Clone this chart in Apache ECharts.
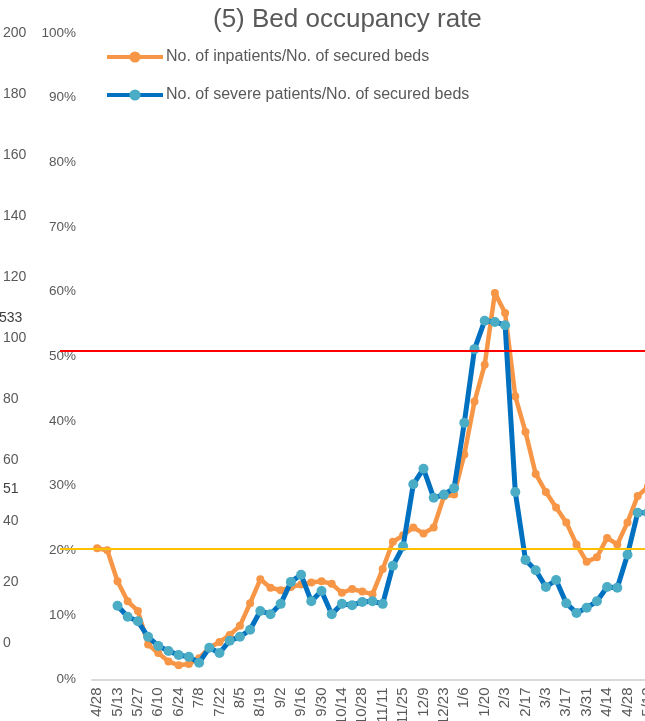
<!DOCTYPE html>
<html>
<head>
<meta charset="utf-8">
<script src="https://cdn.jsdelivr.net/npm/echarts@6/dist/echarts.min.js"></script>
<style>
html, body { margin: 0; padding: 0; background: #fff; }
#chart { width: 645px; height: 721px; }
</style>
</head>
<body>
<div id="chart"></div>
<script>
// weekly dates, every other one is labelled
const dates = [
    '4/28', '5/6', '5/13', '5/20', '5/27', '6/3', '6/10', '6/17', '6/24', '7/1',
    '7/8', '7/15', '7/22', '7/29', '8/5', '8/12', '8/19', '8/26', '9/2', '9/9',
    '9/16', '9/23', '9/30', '10/7', '10/14', '10/21', '10/28', '11/4', '11/11', '11/18',
    '11/25', '12/2', '12/9', '12/16', '12/23', '12/30', '1/6', '1/13', '1/20', '1/27',
    '2/3', '2/10', '2/17', '2/24', '3/3', '3/10', '3/17', '3/24', '3/31', '4/7',
    '4/14', '4/21', '4/28', '5/5', '5/12'
];

// No. of inpatients / No. of secured beds (%)
const inpatientRate = [
    20.3, 20.0, 15.2, 12.1, 10.6, 5.4, 4.1, 2.8, 2.2, 2.4,
    3.3, 4.9, 5.8, 6.9, 8.3, 11.8, 15.5, 14.2, 13.8, 14.3,
    14.7, 15.0, 15.2, 14.8, 13.4, 14.0, 13.6, 13.2, 17.1, 21.3,
    22.3, 23.5, 22.6, 23.5, 28.3, 28.6, 34.8, 43.0, 48.7, 59.8,
    56.7, 43.8, 38.3, 31.8, 29.0, 26.6, 24.3, 20.9, 18.2, 18.9,
    21.9, 20.9, 24.3, 28.4, 29.8
];

// No. of severe patients / No. of secured beds (%)
const severeRate = [
    null, null, 11.4, 9.7, 9.0, 6.6, 5.2, 4.4, 3.8, 3.5,
    2.6, 4.9, 4.1, 6.0, 6.6, 7.7, 10.6, 10.1, 11.7, 15.1,
    16.2, 12.1, 13.7, 10.1, 11.7, 11.5, 12.0, 12.1, 11.7, 17.6,
    20.6, 30.2, 32.6, 28.1, 28.6, 29.6, 39.7, 51.1, 55.5, 55.3,
    54.8, 29.0, 18.5, 16.9, 14.3, 15.4, 11.8, 10.3, 11.1, 12.1,
    14.3, 14.2, 19.3, 25.8, 25.8
];

// reference levels (%)
const redLevel = 50.8;
const yellowLevel = 20.2;

const seriesNames = [
    'No. of inpatients/No. of secured beds',
    'No. of severe patients/No. of secured beds'
];

const txt = '#595959';
const font = '"Liberation Sans", Arial, sans-serif';

const chart = echarts.init(document.getElementById('chart'));
const option = {
    animation: false,
    backgroundColor: '#fff',
    textStyle: { fontFamily: font },
    title: {
        text: '(5) Bed occupancy rate',
        left: 213,
        top: 7,
        padding: 0,
        textStyle: { color: txt, fontSize: 26, fontWeight: 'normal', fontFamily: font }
    },
    legend: {
        orient: 'vertical',
        left: 105,
        top: 49,
        padding: 0,
        itemWidth: 56,
        itemHeight: 14,
        itemGap: 22,
        lineStyle: { width: 4 },
        textStyle: { color: txt, fontSize: 16, fontFamily: font, padding: [0, 0, 0, -2] },
        data: seriesNames
    },
    grid: [
        // main plot, runs past the right and bottom edges
        { left: 92, top: 33, height: 646.5, width: 561, outerBoundsMode: 'none' },
        // stray 0-200 axis on the far left
        { left: 60, top: 33.5, height: 609.5, width: 10, outerBoundsMode: 'none' },
        // reference lines
        { left: 60, top: 33, height: 646.5, width: 700, outerBoundsMode: 'none' }
    ],
    xAxis: [
        {
            type: 'category',
            gridIndex: 0,
            data: dates,
            axisTick: { show: false },
            axisLine: { lineStyle: { color: '#d9d9d9', width: 2 } },
            axisLabel: {
                interval: 1,
                rotate: 90,
                margin: 8,
                color: txt,
                fontSize: 15,
                fontFamily: font
            }
        },
        { type: 'value', gridIndex: 1, show: false },
        { type: 'value', gridIndex: 2, show: false, min: 0, max: 1 }
    ],
    yAxis: [
        {
            type: 'value',
            gridIndex: 0,
            min: 0,
            max: 100,
            interval: 10,
            splitLine: { show: false },
            axisLine: { show: false },
            axisTick: { show: false },
            axisLabel: { formatter: '{value}%', color: txt, fontSize: 13.5, margin: 16, fontFamily: font }
        },
        {
            type: 'value',
            gridIndex: 1,
            min: 0,
            max: 200,
            interval: 20,
            splitLine: { show: false },
            axisLine: { show: false },
            axisTick: { show: false },
            axisLabel: { color: txt, fontSize: 14, margin: 57, align: 'left', fontFamily: font }
        },
        { type: 'value', gridIndex: 2, min: 0, max: 100, show: false }
    ],
    graphic: [
        { type: 'text', left: -1, top: 311, style: { text: '533', fill: '#404040', fontSize: 14, fontFamily: font } },
        { type: 'text', left: 3, top: 482, style: { text: '51', fill: '#404040', fontSize: 14, fontFamily: font } }
    ],
    series: [
        {
            name: seriesNames[0],
            type: 'line',
            xAxisIndex: 0,
            yAxisIndex: 0,
            data: inpatientRate,
            symbol: 'circle',
            symbolSize: 8,
            showAllSymbol: true,
            lineStyle: { color: '#f79646', width: 4.5 },
            itemStyle: { color: '#f79646' },
            z: 3
        },
        {
            name: seriesNames[1],
            type: 'line',
            xAxisIndex: 0,
            yAxisIndex: 0,
            data: severeRate,
            symbol: 'circle',
            symbolSize: 10,
            showAllSymbol: true,
            lineStyle: { color: '#0070c0', width: 5 },
            itemStyle: { color: '#4bacc6' },
            z: 4
        },
        {
            name: 'ref',
            type: 'line',
            xAxisIndex: 2,
            yAxisIndex: 2,
            data: [],
            z: 10,
            markLine: {
                silent: true,
                symbol: ['none', 'none'],
                label: { show: false },
                z: 10,
                data: [
                    { yAxis: redLevel, lineStyle: { color: '#ff0000', width: 2, type: 'solid' } },
                    { yAxis: yellowLevel, lineStyle: { color: '#ffc000', width: 2, type: 'solid' } }
                ]
            }
        }
    ]
};
chart.setOption(option);
</script>
</body>
</html>
